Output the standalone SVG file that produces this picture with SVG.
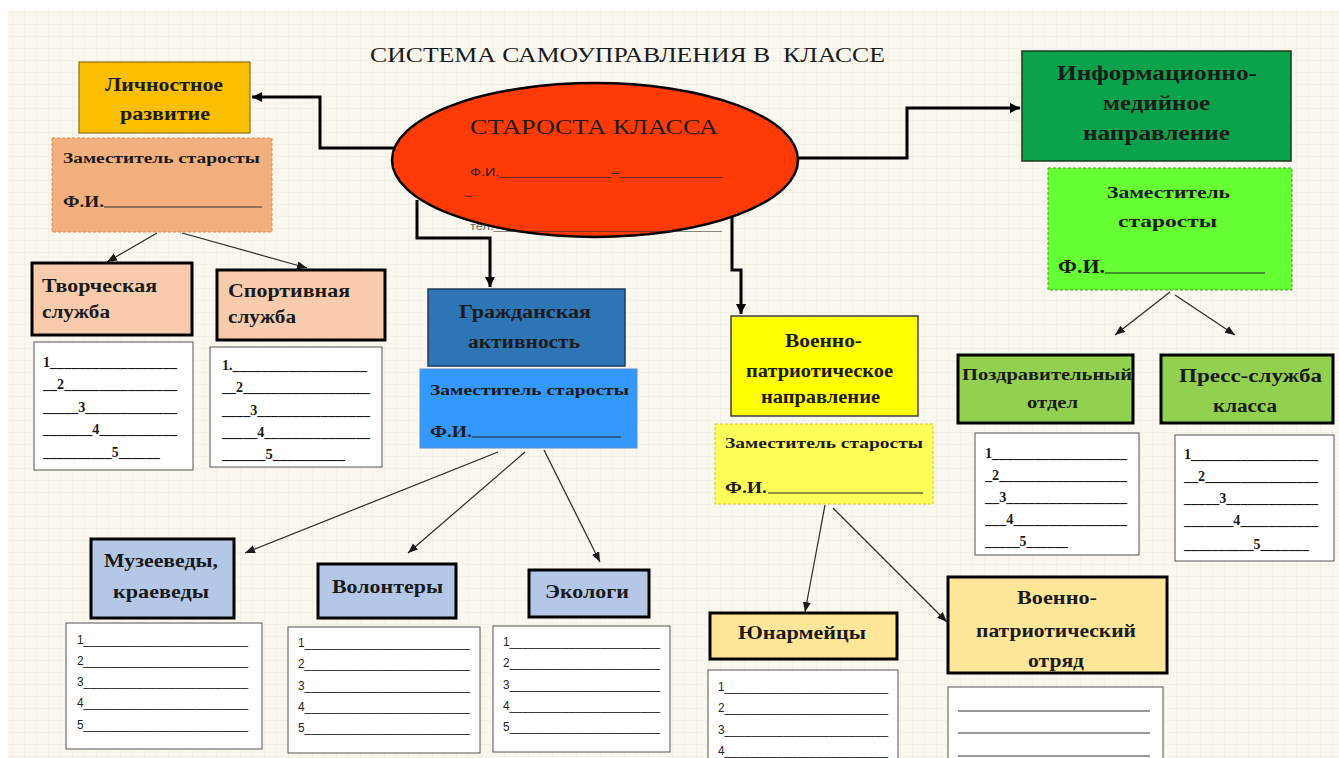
<svg xmlns="http://www.w3.org/2000/svg" width="1339" height="758" viewBox="0 0 1339 758">
<style>
.t{font-family:"Liberation Serif","Times New Roman",serif;font-weight:bold;fill:#1a1a1a}
.s{font-family:"Liberation Sans",Arial,sans-serif;fill:#222}
.l{font-family:"Liberation Serif","Times New Roman",serif;font-weight:bold;font-size:14px;fill:#1a1a1a}
.list{fill:#fff;stroke:#555;stroke-width:1}
.thick{fill:none;stroke:#000;stroke-width:3}
.thin{fill:none;stroke:#2a2a2a;stroke-width:1.2}
.svc{stroke:#000;stroke-width:3}
</style>
<defs>
<pattern id="grid" width="12" height="12" patternUnits="userSpaceOnUse">
<path d="M12 0H0V12" fill="none" stroke="#ebe9df" stroke-width="1"/>
</pattern>
<marker id="ak" markerUnits="userSpaceOnUse" markerWidth="12" markerHeight="12" refX="10" refY="5" orient="auto"><path d="M0,0 L10,5 L0,10 Z" fill="#000"/></marker>
<marker id="an" markerUnits="userSpaceOnUse" markerWidth="12" markerHeight="10" refX="10" refY="4" orient="auto"><path d="M0,0 L10,4 L0,8 Z" fill="#1a1a1a"/></marker>
</defs>
<rect width="1339" height="758" fill="#fff"/>
<rect x="8" y="10" width="1331" height="748" fill="#f9f7ee"/>
<rect x="8" y="10" width="1331" height="748" fill="url(#grid)"/>

<text class="t" x="370" y="62" font-size="20" style="font-weight:normal;white-space:pre" textLength="515" lengthAdjust="spacingAndGlyphs">СИСТЕМА САМОУПРАВЛЕНИЯ В  КЛАССЕ</text>

<g id="connectors">
<path class="thick" d="M400,148 H320 V97 H252" marker-end="url(#ak)"/>
<path class="thick" d="M417,200 V238 H490 V287" marker-end="url(#ak)"/>
<path class="thick" d="M732,200 V270 H741 V314" marker-end="url(#ak)"/>
<path class="thick" d="M780,158 H907 V108 H1020" marker-end="url(#ak)"/>
<path class="thin" d="M157,233 L107,262" marker-end="url(#an)"/>
<path class="thin" d="M182,233 L307,268" marker-end="url(#an)"/>
<path class="thin" d="M1170,292 L1115,335" marker-end="url(#an)"/>
<path class="thin" d="M1175,295 L1235,335" marker-end="url(#an)"/>
<path class="thin" d="M498,452 L245,553" marker-end="url(#an)"/>
<path class="thin" d="M525,452 L408,553" marker-end="url(#an)"/>
<path class="thin" d="M544,450 L600,562" marker-end="url(#an)"/>
<path class="thin" d="M825,505 L805,612" marker-end="url(#an)"/>
<path class="thin" d="M833,508 L947,622" marker-end="url(#an)"/>
</g>

<g id="starosta">
<ellipse cx="595" cy="160" rx="203" ry="77" fill="#ff3a05" stroke="#000" stroke-width="2.5"/>
<text class="t" x="470" y="134" font-size="22" style="font-weight:normal" textLength="248" lengthAdjust="spacingAndGlyphs">СТАРОСТА КЛАССА</text>
<text class="s" x="470" y="176" font-size="11" textLength="253" lengthAdjust="spacingAndGlyphs">Ф.И.______________–_____________</text>
<text class="s" x="466" y="199" font-size="11">–</text>
<text class="s" x="470" y="230" font-size="11" textLength="252" lengthAdjust="spacingAndGlyphs" fill-opacity="0.7">тел.________________________________</text>
</g>

<g id="lichnostnoe">
<rect x="79" y="62" width="171" height="71" fill="#fbbf00" stroke="#7a5a00" stroke-width="1"/>
<text class="t" x="105" y="91" font-size="18" textLength="118" lengthAdjust="spacingAndGlyphs">Личностное</text>
<text class="t" x="120" y="120" font-size="18" textLength="90" lengthAdjust="spacingAndGlyphs">развитие</text>
</g>
<g id="zam-lichnostnoe">
<rect x="52" y="138" width="220" height="94" fill="#f3b07f" stroke="#e08a50" stroke-width="1" stroke-dasharray="3,2"/>
<text class="t" x="63" y="163" font-size="15" textLength="197" lengthAdjust="spacingAndGlyphs">Заместитель старосты</text>
<text class="t" x="63" y="207" font-size="17" textLength="41" lengthAdjust="spacingAndGlyphs">Ф.И.</text>
<line x1="104" y1="207" x2="262" y2="207" stroke="#333" stroke-width="1.2"/>
</g>

<g id="tvorcheskaya">
<rect class="svc" x="32" y="263" width="160" height="72" fill="#f8cbad"/>
<text class="t" x="42" y="292" font-size="18" textLength="115" lengthAdjust="spacingAndGlyphs">Творческая</text>
<text class="t" x="42" y="318" font-size="18" textLength="68" lengthAdjust="spacingAndGlyphs">служба</text>
</g>
<g id="tvorcheskaya-list">
<rect class="list" x="34" y="342" width="159" height="128"/>
<text class="l" x="43" y="367" textLength="134" lengthAdjust="spacingAndGlyphs">1__________________</text>
<text class="l" x="43" y="389" textLength="134" lengthAdjust="spacingAndGlyphs">__2________________</text>
<text class="l" x="43" y="412" textLength="134" lengthAdjust="spacingAndGlyphs">_____3_____________</text>
<text class="l" x="43" y="434" textLength="134" lengthAdjust="spacingAndGlyphs">_______4___________</text>
<text class="l" x="43" y="457" textLength="117" lengthAdjust="spacingAndGlyphs">__________5______</text>
</g>

<g id="sportivnaya">
<rect class="svc" x="217" y="270" width="168" height="70" fill="#f8cbad"/>
<text class="t" x="228" y="297" font-size="18" textLength="122" lengthAdjust="spacingAndGlyphs">Спортивная</text>
<text class="t" x="228" y="323" font-size="18" textLength="68" lengthAdjust="spacingAndGlyphs">служба</text>
</g>
<g id="sportivnaya-list">
<rect class="list" x="210" y="347" width="172" height="120"/>
<text class="l" x="222" y="370" textLength="145" lengthAdjust="spacingAndGlyphs">1.___________________</text>
<text class="l" x="222" y="392" textLength="148" lengthAdjust="spacingAndGlyphs">__2__________________</text>
<text class="l" x="222" y="415" textLength="148" lengthAdjust="spacingAndGlyphs">____3________________</text>
<text class="l" x="222" y="437" textLength="148" lengthAdjust="spacingAndGlyphs">_____4_______________</text>
<text class="l" x="222" y="459" textLength="123" lengthAdjust="spacingAndGlyphs">______5__________</text>
</g>

<g id="grazhdanskaya">
<rect x="428" y="289" width="197" height="77" fill="#2e75b6" stroke="#1f3864" stroke-width="1.5"/>
<text class="t" x="459" y="318" font-size="18" textLength="132" lengthAdjust="spacingAndGlyphs">Гражданская</text>
<text class="t" x="468" y="348" font-size="18" textLength="112" lengthAdjust="spacingAndGlyphs">активность</text>
</g>
<g id="zam-grazhdanskaya">
<rect x="420" y="369" width="217" height="79" fill="#3399ff" stroke="#5a8fd0" stroke-width="1"/>
<text class="t" x="430" y="395" font-size="15" textLength="199" lengthAdjust="spacingAndGlyphs">Заместитель старосты</text>
<text class="t" x="430" y="437" font-size="17" textLength="42" lengthAdjust="spacingAndGlyphs">Ф.И.</text>
<line x1="472" y1="437" x2="621" y2="437" stroke="#222" stroke-width="1.2"/>
</g>

<g id="voenno">
<rect x="731" y="316" width="187" height="100" fill="#ffff00" stroke="#404040" stroke-width="1.5"/>
<text class="t" x="785" y="347" font-size="18" textLength="77" lengthAdjust="spacingAndGlyphs">Военно-</text>
<text class="t" x="746" y="377" font-size="18" textLength="147" lengthAdjust="spacingAndGlyphs">патриотическое</text>
<text class="t" x="761" y="403" font-size="18" textLength="119" lengthAdjust="spacingAndGlyphs">направление</text>
</g>
<g id="zam-voenno">
<rect x="715" y="424" width="218" height="80" fill="#ffff5a" stroke="#e0c020" stroke-width="1" stroke-dasharray="3,2"/>
<text class="t" x="725" y="448" font-size="15" textLength="198" lengthAdjust="spacingAndGlyphs">Заместитель старосты</text>
<text class="t" x="725" y="493" font-size="17" textLength="42" lengthAdjust="spacingAndGlyphs">Ф.И.</text>
<line x1="768" y1="493" x2="923" y2="493" stroke="#222" stroke-width="1.2"/>
</g>

<g id="info">
<rect x="1022" y="51" width="269" height="110" fill="#0ba24c" stroke="#1d3a1d" stroke-width="1.5"/>
<text class="t" x="1057" y="80" font-size="20" textLength="200" lengthAdjust="spacingAndGlyphs">Информационно-</text>
<text class="t" x="1103" y="110" font-size="20" textLength="107" lengthAdjust="spacingAndGlyphs">медийное</text>
<text class="t" x="1083" y="140" font-size="20" textLength="147" lengthAdjust="spacingAndGlyphs">направление</text>
</g>
<g id="zam-info">
<rect x="1048" y="168" width="244" height="122" fill="#66ff33" stroke="#4c9a2a" stroke-width="1" stroke-dasharray="3,2"/>
<text class="t" x="1107" y="198" font-size="17" textLength="123" lengthAdjust="spacingAndGlyphs">Заместитель</text>
<text class="t" x="1118" y="227" font-size="17" textLength="99" lengthAdjust="spacingAndGlyphs">старосты</text>
<text class="t" x="1058" y="273" font-size="18" textLength="47" lengthAdjust="spacingAndGlyphs">Ф.И.</text>
<line x1="1105" y1="273" x2="1265" y2="273" stroke="#222" stroke-width="1.2"/>
</g>

<g id="pozdrav">
<rect class="svc" x="958" y="355" width="175" height="68" fill="#92d050"/>
<text class="t" x="962" y="380" font-size="16" textLength="170" lengthAdjust="spacingAndGlyphs">Поздравительный</text>
<text class="t" x="1027" y="408" font-size="16" textLength="51" lengthAdjust="spacingAndGlyphs">отдел</text>
</g>
<g id="pozdrav-list">
<rect class="list" x="975" y="433" width="164" height="122"/>
<text class="l" x="985" y="458" textLength="142" lengthAdjust="spacingAndGlyphs">1___________________</text>
<text class="l" x="985" y="480" textLength="142" lengthAdjust="spacingAndGlyphs">_2__________________</text>
<text class="l" x="985" y="502" textLength="142" lengthAdjust="spacingAndGlyphs">__3_________________</text>
<text class="l" x="985" y="524" textLength="142" lengthAdjust="spacingAndGlyphs">___4________________</text>
<text class="l" x="985" y="546" textLength="83" lengthAdjust="spacingAndGlyphs">_____5______</text>
</g>

<g id="press">
<rect class="svc" x="1161" y="355" width="172" height="68" fill="#92d050"/>
<text class="t" x="1179" y="382" font-size="18" textLength="143" lengthAdjust="spacingAndGlyphs">Пресс-служба</text>
<text class="t" x="1213" y="412" font-size="18" textLength="64" lengthAdjust="spacingAndGlyphs">класса</text>
</g>
<g id="press-list">
<rect class="list" x="1175" y="435" width="159" height="126"/>
<text class="l" x="1184" y="459" textLength="134" lengthAdjust="spacingAndGlyphs">1__________________</text>
<text class="l" x="1184" y="481" textLength="134" lengthAdjust="spacingAndGlyphs">__2________________</text>
<text class="l" x="1184" y="503" textLength="134" lengthAdjust="spacingAndGlyphs">_____3_____________</text>
<text class="l" x="1184" y="525" textLength="134" lengthAdjust="spacingAndGlyphs">_______4___________</text>
<text class="l" x="1184" y="549" textLength="125" lengthAdjust="spacingAndGlyphs">__________5_______</text>
</g>

<g id="muzeevedy">
<rect class="svc" x="91" y="539" width="143" height="79" fill="#b4c7e7"/>
<text class="t" x="104" y="567" font-size="19" textLength="114" lengthAdjust="spacingAndGlyphs">Музееведы,</text>
<text class="t" x="113" y="598" font-size="19" textLength="96" lengthAdjust="spacingAndGlyphs">краеведы</text>
</g>
<g id="muzeevedy-list">
<rect class="list" x="66" y="623" width="196" height="126"/>
<text class="s" x="77" y="644" font-size="12" textLength="171" lengthAdjust="spacingAndGlyphs">1_________________________</text>
<text class="s" x="77" y="665" font-size="12" textLength="171" lengthAdjust="spacingAndGlyphs">2_________________________</text>
<text class="s" x="77" y="686" font-size="12" textLength="171" lengthAdjust="spacingAndGlyphs">3_________________________</text>
<text class="s" x="77" y="707" font-size="12" textLength="171" lengthAdjust="spacingAndGlyphs">4_________________________</text>
<text class="s" x="77" y="729" font-size="12" textLength="171" lengthAdjust="spacingAndGlyphs">5_________________________</text>
</g>

<g id="volontery">
<rect class="svc" x="318" y="564" width="138" height="54" fill="#b4c7e7"/>
<text class="t" x="332" y="593" font-size="19" textLength="111" lengthAdjust="spacingAndGlyphs">Волонтеры</text>
</g>
<g id="volontery-list">
<rect class="list" x="288" y="627" width="192" height="126"/>
<text class="s" x="298" y="647" font-size="12" textLength="172" lengthAdjust="spacingAndGlyphs">1_________________________</text>
<text class="s" x="298" y="668" font-size="12" textLength="172" lengthAdjust="spacingAndGlyphs">2_________________________</text>
<text class="s" x="298" y="690" font-size="12" textLength="172" lengthAdjust="spacingAndGlyphs">3_________________________</text>
<text class="s" x="298" y="711" font-size="12" textLength="172" lengthAdjust="spacingAndGlyphs">4_________________________</text>
<text class="s" x="298" y="732" font-size="12" textLength="172" lengthAdjust="spacingAndGlyphs">5_________________________</text>
</g>

<g id="ekologi">
<rect class="svc" x="529" y="570" width="120" height="47" fill="#b4c7e7"/>
<text class="t" x="545" y="598" font-size="19" textLength="84" lengthAdjust="spacingAndGlyphs">Экологи</text>
</g>
<g id="ekologi-list">
<rect class="list" x="493" y="626" width="177" height="126"/>
<text class="s" x="503" y="646" font-size="12" textLength="157" lengthAdjust="spacingAndGlyphs">1_______________________</text>
<text class="s" x="503" y="667" font-size="12" textLength="157" lengthAdjust="spacingAndGlyphs">2_______________________</text>
<text class="s" x="503" y="689" font-size="12" textLength="157" lengthAdjust="spacingAndGlyphs">3_______________________</text>
<text class="s" x="503" y="710" font-size="12" textLength="157" lengthAdjust="spacingAndGlyphs">4_______________________</text>
<text class="s" x="503" y="731" font-size="12" textLength="157" lengthAdjust="spacingAndGlyphs">5_______________________</text>
</g>

<g id="yunarmeytsy">
<rect class="svc" x="710" y="613" width="187" height="46" fill="#ffe699"/>
<text class="t" x="738" y="639" font-size="19" textLength="128" lengthAdjust="spacingAndGlyphs">Юнармейцы</text>
</g>
<g id="yunarmeytsy-list">
<rect class="list" x="708" y="670" width="190" height="95"/>
<text class="s" x="718" y="691" font-size="12" textLength="170" lengthAdjust="spacingAndGlyphs">1_________________________</text>
<text class="s" x="718" y="712" font-size="12" textLength="170" lengthAdjust="spacingAndGlyphs">2_________________________</text>
<text class="s" x="718" y="734" font-size="12" textLength="170" lengthAdjust="spacingAndGlyphs">3_________________________</text>
<text class="s" x="718" y="755" font-size="12" textLength="170" lengthAdjust="spacingAndGlyphs">4_________________________</text>
</g>

<g id="otryad">
<rect class="svc" x="948" y="577" width="219" height="96" fill="#ffe699"/>
<text class="t" x="1017" y="604" font-size="19" textLength="80" lengthAdjust="spacingAndGlyphs">Военно-</text>
<text class="t" x="976" y="637" font-size="19" textLength="160" lengthAdjust="spacingAndGlyphs">патриотический</text>
<text class="t" x="1028" y="667" font-size="19" textLength="56" lengthAdjust="spacingAndGlyphs">отряд</text>
</g>
<g id="otryad-list">
<rect class="list" x="948" y="687" width="215" height="80"/>
<line x1="958" y1="711" x2="1150" y2="711" stroke="#333" stroke-width="1"/>
<line x1="958" y1="733" x2="1150" y2="733" stroke="#333" stroke-width="1"/>
<line x1="958" y1="756" x2="1150" y2="756" stroke="#333" stroke-width="1"/>
</g>
</svg>
